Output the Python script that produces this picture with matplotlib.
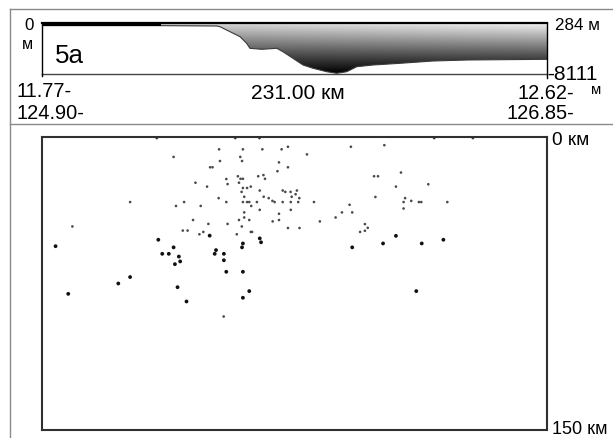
import numpy as np
import matplotlib
matplotlib.use("Agg")
import matplotlib.pyplot as plt
from matplotlib.lines import Line2D
from matplotlib.patches import PathPatch

plt.rcParams['font.family'] = ['Liberation Sans', 'DejaVu Sans']

# ---------------- data ----------------
profile_len_km = 231.0
elev_top_m = 284
elev_bot_m = -8111
depth_max_km = 150

# bathymetric profile (distance km, elevation m)
prof_km = [0.0, 54.4, 80.0, 81.4, 86.0, 90.6, 93.6, 95.1, 100.5, 107.4, 110.2,
           114.8, 119.4, 124.0, 130.2, 134.8, 139.4, 144.0, 151.4, 163.8, 178.8,
           194.3, 231.0]
prof_m = [-150, -150, -210, -325, -1148, -1971, -3058, -3880, -4045, -3880, -4440,
          -5526, -6629, -7172, -7732, -7995, -7732, -6909, -6629, -6350, -5971,
          -5806, -5691]
shelf_end_km = 54.4

# shallow events (grey)
grey_x = [81.0, 91.9, 100.8, 109.6, 112.5, 60.2, 81.4, 90.7, 91.5, 108.4, 121.2,
          76.9, 78.0, 107.7, 112.5, 84.3, 89.6, 90.8, 91.9, 98.9, 101.3, 102.0,
          70.2, 84.9, 90.1, 75.5, 91.9, 93.8, 95.5, 91.3, 99.6, 110.1, 111.3,
          113.7, 116.6, 116.0, 114.2, 117.7, 92.5, 80.8, 101.4, 103.7, 105.4,
          106.4, 65.0, 40.3, 61.3, 72.6, 84.3, 91.9, 93.8, 94.8, 95.7, 98.3,
          110.1, 113.8, 117.2, 124.4, 99.6, 92.5, 113.8, 108.4, 92.5, 94.8, 90.1,
          108.4, 105.5, 69.1, 76.1, 84.9, 91.4, 112.5, 117.8, 127.1, 13.9, 64.4,
          66.6, 72.0, 73.8, 89.1, 95.5, 96.1,
          141.3, 156.6, 151.9, 153.7, 164.2, 161.9, 176.7, 152.5, 166.1, 165.4,
          168.9, 172.4, 173.5, 185.4, 140.7, 165.4, 137.2, 141.9, 134.3, 147.7,
          149.0, 147.7, 145.5, 83.1]
grey_depth = [6.3, 6.3, 6.3, 6.3, 5.0, 10.2, 12.3, 10.2, 12.3, 13.0, 8.9,
              15.5, 15.5, 17.5, 15.5, 21.5, 20.1, 21.4, 21.4, 20.1, 19.5, 21.4,
              23.4, 24.1, 23.4, 25.4, 26.1, 26.1, 25.4, 28.1, 27.4, 27.4, 28.1,
              28.1, 27.4, 29.3, 30.6, 31.3, 30.6, 31.3, 30.6, 31.3, 32.7,
              33.3, 33.3, 33.3, 35.3, 35.3, 33.3, 33.3, 33.3, 33.3, 35.3, 33.3,
              33.3, 33.3, 33.3, 33.3, 37.3, 38.6, 37.3, 39.3, 41.2, 42.5, 42.5,
              42.5, 43.2, 42.5, 44.5, 44.5, 45.8, 46.6, 46.6, 43.2, 45.8, 47.9,
              47.9, 49.8, 48.6, 49.8, 48.6, 48.6,
              5.0, 4.2, 20.1, 20.1, 18.2, 25.4, 24.2, 30.7, 31.3, 33.3,
              32.7, 33.3, 33.3, 33.3, 34.7, 36.6, 38.6, 38.6, 41.2, 44.6,
              46.5, 48.0, 48.6, 91.9]

# intermediate-depth events (black)
black_x = [6.2, 12.0, 34.9, 40.3, 53.2, 55.0, 58.0, 60.2, 62.6, 63.2, 60.8, 62.0,
           66.1, 76.7, 79.6, 79.0, 83.2, 83.2, 84.3, 91.9, 91.5, 91.9, 99.6, 100.2,
           94.8, 91.9, 141.9, 156.0, 161.9, 173.7, 183.6, 171.2]
black_depth = [55.9, 80.3, 75.0, 71.7, 52.6, 59.8, 59.8, 56.5, 61.2, 63.7, 65.1, 76.9,
               84.2, 50.5, 57.9, 59.8, 59.8, 63.1, 69.0, 69.0, 56.5, 54.5, 51.9, 53.9,
               78.9, 82.3, 56.5, 54.5, 50.6, 54.5, 52.6, 78.9]

# events at the surface
surf_x = [52.5, 88.4, 99.5, 179.4, 197.1]
surf_depth = [0.5, 0.5, 0.5, 0.5, 0.5]

# labels
panel_label = "5a"
left_coord = ["11.77-", "124.90-"]
right_coord = ["12.62-", "126.85-"]
length_label = "231.00 км"

# ---------------- figure ----------------
W, H = 613, 438
fig = plt.figure(figsize=(W / 100, H / 100), dpi=100)
fig.patch.set_facecolor('white')


def fx(x):
    return x / W


def fy(y):
    return 1 - y / H


def pt(px):
    return px * 0.72


# outer frame lines (grey)
for (x0, y0, x1, y1) in [(10, 9, 613, 9), (10, 9, 10, 438), (10, 124, 613, 124)]:
    fig.add_artist(Line2D([fx(x0), fx(x1)], [fy(y0), fy(y1)], color='#8a8a8a', lw=1.0,
                          transform=fig.transFigure))

# ---------- top panel: profile ----------
axp = fig.add_axes([fx(42), fy(74), fx(547) - fx(42), (74 - 23) / H])
axp.set_xlim(0, profile_len_km)
axp.set_ylim(elev_bot_m, elev_top_m)
axp.set_xticks([])
axp.set_yticks([])

nx, ny = 300, 200
gx = np.linspace(0, 1, nx)
gy = np.linspace(0, 1, ny)  # 0 bottom, 1 top
GX, GY = np.meshgrid(gx, gy)
val = 0.80 * GY ** 1.1 + 0.17 * GX * GY
img = axp.imshow(val, cmap='gray', vmin=0, vmax=1, origin='lower', aspect='auto',
                 extent=[0, profile_len_km, elev_bot_m, elev_top_m], zorder=1)
poly = axp.fill_between(prof_km, prof_m, elev_top_m, color='none', lw=0)
clip = PathPatch(poly.get_paths()[0], transform=axp.transData, facecolor='none',
                 edgecolor='none')
axp.add_patch(clip)
img.set_clip_path(clip)
axp.plot(prof_km, prof_m, color='#3a3a3a', lw=0.8, zorder=2)
sx = [k for k in prof_km if k <= shelf_end_km]
sy = prof_m[:len(sx)]
axp.fill_between(sx, sy, elev_top_m, color='black', lw=0, zorder=2)

for s in ['top', 'right', 'left']:
    axp.spines[s].set_color('black')
axp.spines['top'].set_linewidth(1.6)
axp.spines['left'].set_linewidth(1.0)
axp.spines['right'].set_linewidth(1.0)
axp.spines['bottom'].set_color('#444444')
axp.spines['bottom'].set_linewidth(1.0)

fig.add_artist(Line2D([fx(547), fx(547)], [fy(74), fy(78)], color='black', lw=1.0,
                      transform=fig.transFigure))
fig.add_artist(Line2D([fx(42), fx(42)], [fy(74), fy(76)], color='black', lw=1.0,
                      transform=fig.transFigure))

# ---------- lower panel: section ----------
axs = fig.add_axes([fx(42), fy(430), fx(547) - fx(42), (430 - 137) / H])
axs.set_xlim(0, profile_len_km)
axs.set_ylim(depth_max_km, 0)
axs.set_xticks([])
axs.set_yticks([])
for s in axs.spines.values():
    s.set_color('#303030')
    s.set_linewidth(1.5)

axs.scatter(grey_x, grey_depth, s=3.6, color='#4a4a4a', edgecolors='none', zorder=3)
axs.scatter(black_x, black_depth, s=7.5, color='#111111', edgecolors='none', zorder=3)
axs.scatter(surf_x, surf_depth, s=4.0, color='#333333', edgecolors='none', zorder=4,
            clip_on=False)


# ---------- texts ----------
def T(x, y, s, size, ha='left', va='baseline'):
    fig.text(fx(x), fy(y), s, fontsize=pt(size), ha=ha, va=va, color='black')


T(29, 30, "0", 17, ha='center')
T(27, 49, "м", 16, ha='center')
T(55, 63, panel_label, 26)
T(17, 97, left_coord[0], 20)
T(17, 119, left_coord[1], 20)
T(297.5, 99, length_label, 21, ha='center')
T(574, 99, right_coord[0], 20, ha='right')
T(574, 119, right_coord[1], 20, ha='right')
T(596, 94, "м", 15, ha='center')
T(547, 80, f"{elev_bot_m}", 21)
T(555, 30, f"{elev_top_m} м", 17)
T(552, 145, "0 км", 19)
T(552, 434, f"{depth_max_km} км", 18)

fig.savefig("out.png", dpi=100, facecolor='white')
